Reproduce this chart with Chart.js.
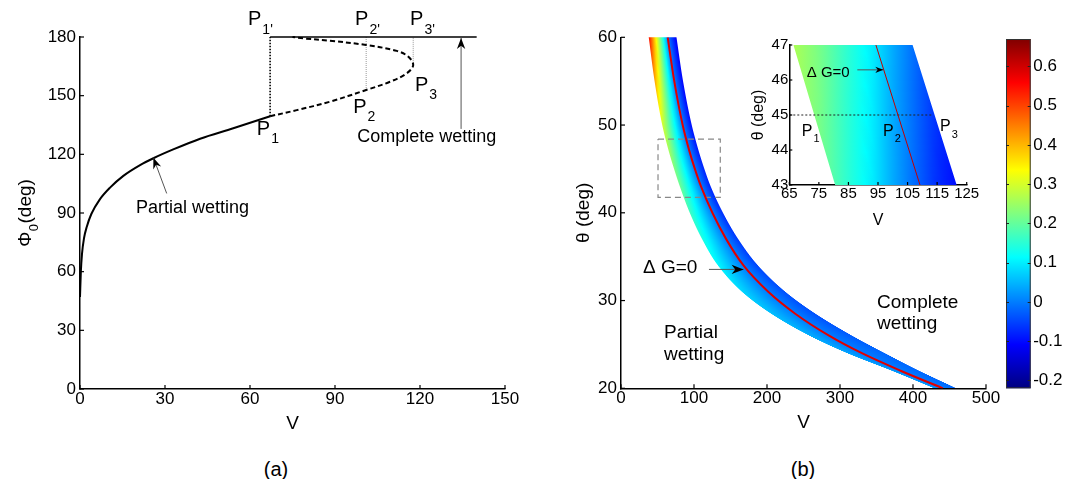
<!DOCTYPE html>
<html>
<head>
<meta charset="utf-8">
<script src="https://cdn.jsdelivr.net/npm/chart.js@4.4.1/dist/chart.umd.min.js"></script>
<style>
  body { margin: 0; background: #fff; }
  #fig { position: relative; width: 1069px; height: 479px; overflow: hidden; background: #fff; }
  #fig canvas { position: absolute; }
  .cap { position: absolute; top: 457px; width: 60px; line-height: 24px; text-align: center;
         font-size: 20px; font-family: 'Liberation Sans Narrow', 'Liberation Sans', sans-serif; color: #000; }
</style>
</head>
<body>
<div id="fig">
  <canvas id="chartA" width="540" height="440" style="left:0;top:0"></canvas>
  <canvas id="chartB" width="549" height="440" style="left:520px;top:0"></canvas>
  <canvas id="inset" width="240" height="215" style="left:740px;top:20px"></canvas>
  <canvas id="cbar" width="79" height="440" style="left:990px;top:0"></canvas>
  <div class="cap" style="left:246px">(a)</div>
  <div class="cap" style="left:773px">(b)</div>
</div>
<script>
// (a) Φ0 against V: stable branch (solid) and unstable branch (dashed)
const phiSolidV = [0, 0.3, 0.7, 1.4, 2.4, 4, 7, 10.6, 15.3, 21.2, 25.9, 32.9, 42.4, 54.1, 67.1];
const phiSolid = [47, 60, 69, 77, 83, 89.5, 97, 103, 109, 114.5, 118, 122.5, 128, 133.3, 139.5];
const phiDashV = [67.1, 76.5, 88.2, 101, 109.4, 115.3, 117.6, 115.9, 111.8, 101, 88.2, 78.8, 75];
const phiDash = [139.5, 142.6, 146.9, 152.9, 157.1, 161.4, 165.6, 169.9, 172.9, 175.9, 178.1, 179.3, 180];
const topLineV = [67.1, 140];
const markV = [67.1, 101, 117.6];      // P1, P2, P3
const markPhi = [139.5, 152.9, 165.6];

// (b) band of the ΔG map: left edge, ΔG=0 line, right edge at each θ
const thetaBand = [60, 55, 50, 47, 45, 43, 40, 37, 34, 31, 28.5, 26, 24, 22, 20];
const vLeft = [38, 46, 56.5, 65.5, 72.7, 80.6, 94.2, 111.1, 132.8, 165.7, 205.7, 258, 310, 371, 429];
const vZero = [64, 73, 84.5, 93.8, 101.2, 109.6, 125.2, 144.1, 167.8, 201.7, 238.7, 285, 330, 383, 441];
const vRight = [76, 85, 96.9, 106.6, 114.2, 122.9, 139.7, 160.6, 187.6, 225.1, 266.4, 316.4, 361.4, 408.4, 459.4];
const gLeft = [0.55, 0.42, 0.3, 0.26, 0.23, 0.21, 0.17, 0.14, 0.11, 0.08, 0.06, 0.045, 0.035, 0.03, 0.025];
const gRight = [-0.12, -0.11, -0.1, -0.09, -0.08, -0.08, -0.07, -0.06, -0.05, -0.04, -0.04, -0.03, -0.02, -0.02, -0.02];
const boxV = [50.7, 136];
const boxTheta = [41.75, 48.4];

// inset: zoom of the dashed box
const insetTheta = [47, 43];
const insetLeft = [66.4, 80.5];
const insetZero = [94.3, 109.2];
const insetRight = [106.7, 121.6];
const insetColorV = [65, 75, 85, 93, 100, 108, 115, 122];
const insetColorG = [0.27, 0.22, 0.15, 0.1, 0.04, -0.02, -0.07, -0.1];
const insetLineV = [65, 113.5];

// colour bar range
const cbMin = -0.22;
const cbMax = 0.67;

const FAM = "'Liberation Sans', Arial, Helvetica, sans-serif";
Chart.defaults.font.family = FAM;
Chart.defaults.color = '#000';
Chart.defaults.animation = false;

const pts = (xs, ys) => xs.map((x, i) => ({ x, y: ys[i] }));

function jet(v) {
  const t = Math.min(1, Math.max(0, (v - cbMin) / (cbMax - cbMin)));
  const c = (k) => Math.round(255 * Math.min(1, Math.max(0, 1.5 - Math.abs(4 * t - k))));
  return 'rgb(' + c(3) + ',' + c(2) + ',' + c(1) + ')';
}

function lerpAt(ts, vs, t) {
  for (let i = 0; i < ts.length - 1; i++) {
    const a = ts[i], b = ts[i + 1];
    if ((t <= a && t >= b) || (t >= a && t <= b)) {
      return vs[i] + ((t - a) / (b - a)) * (vs[i + 1] - vs[i]);
    }
  }
  return null;
}

// monotone cubic through the read points, so the band edges stay smooth
function monotone(xs, ys) {
  const X = xs.slice(), Y = ys.slice();
  if (X[0] > X[X.length - 1]) { X.reverse(); Y.reverse(); }
  const n = X.length, d = [], m = [];
  for (let i = 0; i < n - 1; i++) d.push((Y[i + 1] - Y[i]) / (X[i + 1] - X[i]));
  m[0] = d[0];
  m[n - 1] = d[n - 2];
  for (let i = 1; i < n - 1; i++) m[i] = d[i - 1] * d[i] <= 0 ? 0 : (d[i - 1] + d[i]) / 2;
  for (let i = 0; i < n - 1; i++) {
    if (d[i] === 0) { m[i] = m[i + 1] = 0; continue; }
    const a = m[i] / d[i], b = m[i + 1] / d[i], h = a * a + b * b;
    if (h > 9) { const s = 3 / Math.sqrt(h); m[i] = s * a * d[i]; m[i + 1] = s * b * d[i]; }
  }
  return (x) => {
    if (x < X[0] - 1e-6 || x > X[n - 1] + 1e-6) return null;
    let i = 0;
    while (i < n - 2 && x > X[i + 1]) i++;
    const h = X[i + 1] - X[i], t = (x - X[i]) / h, t2 = t * t, t3 = t2 * t;
    return (2 * t3 - 3 * t2 + 1) * Y[i] + (t3 - 2 * t2 + t) * h * m[i] +
      (-2 * t3 + 3 * t2) * Y[i + 1] + (t3 - t2) * h * m[i + 1];
  };
}

function scale(min, max, step, size, pad, fitKey, fitVal, title) {
  return {
    type: 'linear', min, max,
    ticks: { stepSize: step, includeBounds: false, autoSkip: false, maxRotation: 0, padding: pad, font: { size }, color: '#000' },
    grid: { drawOnChartArea: false, drawTicks: false, lineWidth: 1.5 },
    border: { color: '#000', width: 1.5 },
    title: title || { display: false },
    afterFit(s) { s[fitKey] = fitVal; },
  };
}

function line(data, color, width, dash, extra) {
  return Object.assign({ data, showLine: true, borderColor: color, borderWidth: width, borderDash: dash || [], pointRadius: 0, tension: 0 }, extra || {});
}

// inward tick marks, MATLAB style
function inTicks(len) {
  return {
    id: 'inTicks',
    afterDraw(chart) {
      const { ctx } = chart;
      ctx.save();
      ctx.strokeStyle = '#000';
      ctx.lineWidth = 1.2;
      ['x', 'y'].forEach((id) => {
        const s = chart.scales[id];
        s.ticks.forEach((t) => {
          const p = s.getPixelForValue(t.value);
          ctx.beginPath();
          if (id === 'x') { ctx.moveTo(p, s.top); ctx.lineTo(p, s.top - len); }
          else { ctx.moveTo(s.right, p); ctx.lineTo(s.right + len, p); }
          ctx.stroke();
        });
      });
      ctx.restore();
    },
  };
}

function drawText(ctx, x, y, n) {
  const size = n.size || 18;
  ctx.font = size + 'px ' + FAM;
  ctx.fillStyle = '#000';
  ctx.textBaseline = 'middle';
  ctx.textAlign = 'left';
  const w = ctx.measureText(n.text).width;
  const x0 = n.align === 'center' ? x - w / 2 : x;
  ctx.fillText(n.text, x0, y);
  if (n.sub) {
    ctx.font = (n.subSize || Math.round(size * 0.7)) + 'px ' + FAM;
    ctx.fillText(n.sub, x0 + w + 1, y + size * 0.5);
  }
}

function arrow(ctx, x1, y1, x2, y2, head) {
  ctx.save();
  ctx.strokeStyle = '#555';
  ctx.lineWidth = 1;
  ctx.beginPath();
  ctx.moveTo(x1, y1);
  ctx.lineTo(x2, y2);
  ctx.stroke();
  ctx.translate(x2, y2);
  ctx.rotate(Math.atan2(y2 - y1, x2 - x1));
  ctx.fillStyle = '#000';
  ctx.beginPath();
  ctx.moveTo(0, 0);
  ctx.lineTo(-head, -head * 0.38);
  ctx.lineTo(-head * 0.7, 0);
  ctx.lineTo(-head, head * 0.38);
  ctx.closePath();
  ctx.fill();
  ctx.restore();
}

function notes(texts, arrows, headLen, extra) {
  return {
    id: 'notes',
    afterDraw(chart) {
      const { ctx, scales: { x, y } } = chart;
      ctx.save();
      texts.forEach((n) => drawText(ctx, x.getPixelForValue(n.v), y.getPixelForValue(n.t), n));
      arrows.forEach((a) => arrow(ctx,
        x.getPixelForValue(a.from[0]), y.getPixelForValue(a.from[1]),
        x.getPixelForValue(a.to[0]), y.getPixelForValue(a.to[1]), headLen));
      if (extra) extra(chart);
      ctx.restore();
    },
  };
}

// filled band, one pixel row at a time, coloured with the jet map
function band(cfg) {
  const fl = monotone(cfg.theta, cfg.left);
  const fm = monotone(cfg.theta, cfg.zero);
  const fr = monotone(cfg.theta, cfg.right);
  return {
    id: 'band',
    beforeDatasetsDraw(chart) {
      const { ctx, chartArea: a, scales: { x, y } } = chart;
      ctx.save();
      ctx.beginPath();
      ctx.rect(a.left, a.top, a.width, a.height);
      ctx.clip();
      for (let py = Math.floor(a.top); py < Math.ceil(a.bottom); py++) {
        const t = y.getValueForPixel(py + 0.5);
        const vl = fl(t);
        if (vl === null) continue;
        const vm = fm(t), vr = fr(t);
        const xl = x.getPixelForValue(vl), xm = x.getPixelForValue(vm), xr = x.getPixelForValue(vr);
        const g = ctx.createLinearGradient(xl, 0, xr, 0);
        const span = xr - xl;
        if (cfg.colorV) {
          for (let k = 0; k <= 12; k++) {
            const f = k / 12;
            g.addColorStop(f, jet(lerpAt(cfg.colorV, cfg.colorG, vl + f * (vr - vl))));
          }
        } else {
          const gl = lerpAt(cfg.theta, cfg.gLeft, t);
          const gr = lerpAt(cfg.theta, cfg.gRight, t);
          for (let k = 0; k <= 8; k++) {
            const f = k / 8;
            g.addColorStop((f * (xm - xl)) / span, jet(gl * (1 - f)));
          }
          for (let k = 1; k <= 8; k++) {
            const f = k / 8;
            g.addColorStop((xm - xl + f * (xr - xm)) / span, jet(gr * f));
          }
        }
        ctx.fillStyle = g;
        ctx.fillRect(xl, py, span, 1);
      }
      ctx.restore();
    },
  };
}

const baseOpts = (pad) => ({
  responsive: false,
  animation: false,
  layout: { padding: pad },
  plugins: { legend: { display: false }, tooltip: { enabled: false } },
});

// ---------- panel (a) ----------
new Chart(document.getElementById('chartA'), {
  type: 'scatter',
  data: {
    datasets: [
      line(pts(phiSolidV, phiSolid), '#000', 2, null, { cubicInterpolationMode: 'monotone' }),
      line(pts(phiDashV, phiDash), '#000', 2, [5, 3], { tension: 0.35, clip: false }),
      line(pts(topLineV, [180, 180]), '#000', 1.3, null, { clip: false }),
      line(pts([markV[0], markV[0]], [markPhi[0], 180]), '#000', 1.6, [1.5, 1.5]),
      line(pts([markV[1], markV[1]], [markPhi[1], 180]), '#999', 1, [1, 1]),
      line(pts([markV[2], markV[2]], [markPhi[2], 180]), '#999', 1, [1, 1]),
    ],
  },
  options: Object.assign(baseOpts({ top: 37, right: 35, left: 0, bottom: 0 }), {
    scales: {
      x: scale(0, 150, 30, 17, 0, 'height', 51, { display: true, text: 'V', font: { size: 19 }, color: '#000', padding: { top: 0, bottom: 5 } }),
      y: scale(0, 180, 30, 17, 4, 'width', 80),
    },
  }),
  plugins: [
    inTicks(4),
    notes([
      { v: 62.4, t: 132.8, text: 'P', sub: '1', size: 20, subSize: 14 },
      { v: 96.4, t: 144, text: 'P', sub: '2', size: 20, subSize: 14 },
      { v: 118.2, t: 155.4, text: 'P', sub: '3', size: 20, subSize: 14 },
      { v: 59.3, t: 188.8, text: 'P', sub: "1'", size: 20, subSize: 14 },
      { v: 97.1, t: 188.8, text: 'P', sub: "2'", size: 20, subSize: 14 },
      { v: 116.5, t: 188.8, text: 'P', sub: "3'", size: 20, subSize: 14 },
      { v: 39.7, t: 92.4, text: 'Partial wetting', align: 'center', size: 18 },
      { v: 122.4, t: 129, text: 'Complete wetting', align: 'center', size: 18 },
    ], [
      { from: [30.6, 100], to: [25.9, 118.3] },
      { from: [134.5, 133], to: [134.5, 179.5] },
    ], 11, (chart) => {
      // rotated y title with subscript: Φ0(deg)
      const { ctx, chartArea: a } = chart;
      ctx.save();
      ctx.translate(26, (a.top + a.bottom) / 2);
      ctx.rotate(-Math.PI / 2);
      ctx.fillStyle = '#000';
      ctx.textBaseline = 'middle';
      ctx.textAlign = 'left';
      ctx.font = '19px ' + FAM;
      const w1 = ctx.measureText('Φ').width;
      const w3 = ctx.measureText('(deg)').width;
      ctx.font = '13px ' + FAM;
      const w2 = ctx.measureText('0').width;
      const x0 = -(w1 + w2 + w3 + 1) / 2;
      ctx.font = '19px ' + FAM;
      ctx.fillText('Φ', x0, 0);
      ctx.fillText('(deg)', x0 + w1 + w2 + 1, 0);
      ctx.font = '13px ' + FAM;
      ctx.fillText('0', x0 + w1 + 0.5, 8);
      ctx.restore();
    }),
  ],
});

// ---------- panel (b) ----------
new Chart(document.getElementById('chartB'), {
  type: 'scatter',
  data: {
    datasets: [
      line(pts(vZero, thetaBand), '#e00000', 2, null, { cubicInterpolationMode: 'monotone' }),
      line(pts([boxV[0], boxV[1], boxV[1], boxV[0], boxV[0]], [boxTheta[1], boxTheta[1], boxTheta[0], boxTheta[0], boxTheta[1]]), '#888', 1.2, [6, 4]),
    ],
  },
  options: Object.assign(baseOpts({ top: 37.3, right: 83, left: 0, bottom: 0 }), {
    scales: {
      x: scale(0, 500, 100, 17, 0, 'height', 51.7, { display: true, text: 'V', font: { size: 19 }, color: '#000', padding: { top: 0, bottom: 6 } }),
      y: scale(20, 60, 10, 17, 4, 'width', 101, { display: true, text: 'θ (deg)', font: { size: 19 }, color: '#000', padding: { top: 52, bottom: 0 } }),
    },
  }),
  plugins: [
    band({ theta: thetaBand, left: vLeft, zero: vZero, right: vRight, gLeft, gRight }),
    inTicks(4),
    notes([
      { v: 30.1, t: 33.7, text: 'Δ G=0', size: 19 },
      { v: 58.9, t: 26.3, text: 'Partial', size: 19 },
      { v: 58.9, t: 23.8, text: 'wetting', size: 19 },
      { v: 350.7, t: 29.8, text: 'Complete', size: 19 },
      { v: 350.7, t: 27.3, text: 'wetting', size: 19 },
    ], [
      { from: [120.5, 33.55], to: [168, 33.55] },
    ], 12),
  ],
});

// ---------- inset ----------
new Chart(document.getElementById('inset'), {
  type: 'scatter',
  data: {
    datasets: [
      line(pts(insetZero, insetTheta), '#c00000', 1),
      line(pts(insetLineV, [45, 45]), '#222', 1, [2, 2]),
    ],
  },
  options: Object.assign(baseOpts({ top: 25, right: 13.3, left: 0, bottom: 0 }), {
    scales: {
      x: scale(65, 125, 10, 15, 0, 'height', 50, { display: true, text: 'V', font: { size: 16 }, color: '#000', padding: { top: 0, bottom: 5 } }),
      y: scale(43, 47, 1, 15, 1, 'width', 49.3, { display: true, text: 'θ (deg)', font: { size: 16 }, color: '#000', padding: { top: 9, bottom: 0 } }),
    },
  }),
  plugins: [
    band({ theta: insetTheta, left: insetLeft, zero: insetZero, right: insetRight, colorV: insetColorV, colorG: insetColorG }),
    inTicks(3),
    notes([
      { v: 69.2, t: 44.54, text: 'P', sub: '1', size: 16, subSize: 11 },
      { v: 96.7, t: 44.54, text: 'P', sub: '2', size: 16, subSize: 11 },
      { v: 116, t: 44.66, text: 'P', sub: '3', size: 16, subSize: 11 },
      { v: 70.9, t: 46.21, text: 'Δ G=0', size: 15 },
    ], [
      { from: [88, 46.29], to: [96.8, 46.29] },
    ], 8),
  ],
});

// ---------- colour bar ----------
new Chart(document.getElementById('cbar'), {
  type: 'scatter',
  data: { datasets: [] },
  options: Object.assign(baseOpts({ top: 39, right: 0, left: 16, bottom: 51.7 }), {
    scales: {
      x: { display: false, min: 0, max: 1 },
      y: {
        type: 'linear', position: 'right', min: cbMin, max: cbMax,
        ticks: { stepSize: 0.1, includeBounds: false, padding: 2.5, font: { size: 17 }, color: '#000', callback: (v) => +v.toFixed(1) },
        grid: { drawOnChartArea: false, drawTicks: false },
        border: { display: false },
        afterFit(s) { s.width = 38.3; },
      },
    },
  }),
  plugins: [{
    id: 'cbarFill',
    beforeDraw(chart) {
      const { ctx, chartArea: a, scales: { y } } = chart;
      const g = ctx.createLinearGradient(0, a.bottom, 0, a.top);
      for (let k = 0; k <= 40; k++) {
        const f = k / 40;
        g.addColorStop(f, jet(cbMin + f * (cbMax - cbMin)));
      }
      ctx.save();
      ctx.fillStyle = g;
      ctx.fillRect(a.left, a.top, a.width, a.height);
      ctx.strokeStyle = '#333';
      ctx.lineWidth = 1;
      ctx.strokeRect(a.left + 0.5, a.top + 0.5, a.width - 1, a.height - 1);
      ctx.strokeStyle = '#222';
      y.ticks.forEach((t) => {
        const p = Math.round(y.getPixelForValue(t.value)) + 0.5;
        ctx.beginPath();
        ctx.moveTo(a.left, p); ctx.lineTo(a.left + 3, p);
        ctx.moveTo(a.right, p); ctx.lineTo(a.right - 3, p);
        ctx.stroke();
      });
      ctx.restore();
    },
  }],
});
</script>
</body>
</html>
